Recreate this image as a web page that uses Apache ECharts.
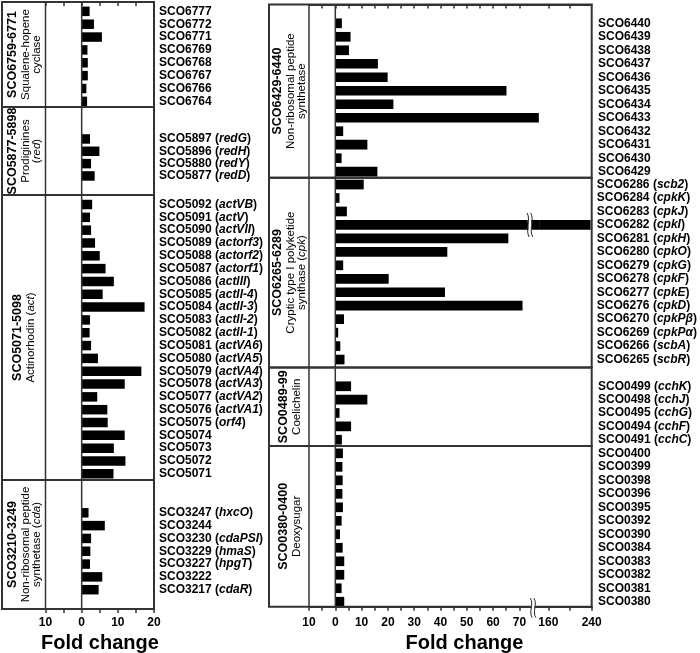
<!DOCTYPE html>
<html><head><meta charset="utf-8">
<script src="https://cdn.jsdelivr.net/npm/echarts@6/dist/echarts.min.js"></script>
<style>html,body{margin:0;padding:0;background:#fff}#c{width:700px;height:653px}</style>
</head><body><div id="c"></div>
<script>
// ---------------- DATA ----------------
const squaleneGenes = ['SCO6777','SCO6772','SCO6771','SCO6769','SCO6768','SCO6767','SCO6766','SCO6764'];
const squaleneFold  = [2.2, 3.4, 5.6, 1.6, 1.7, 1.7, 1.3, 1.5];

const redGenes = ['SCO5897 (redG)','SCO5896 (redH)','SCO5880 (redY)','SCO5877 (redD)'];
const redFold  = [2.3, 4.9, 2.6, 3.6];

const actGenes = ['SCO5092 (actVB)','SCO5091 (actV)','SCO5090 (actVII)','SCO5089 (actorf3)','SCO5088 (actorf2)',
  'SCO5087 (actorf1)','SCO5086 (actIII)','SCO5085 (actII-4)','SCO5084 (actII-3)','SCO5083 (actII-2)','SCO5082 (actII-1)',
  'SCO5081 (actVA6)','SCO5080 (actVA5)','SCO5079 (actVA4)','SCO5078 (actVA3)','SCO5077 (actVA2)','SCO5076 (actVA1)',
  'SCO5075 (orf4)','SCO5074','SCO5073','SCO5072','SCO5071'];
const actFold  = [2.9, 2.3, 2.6, 3.7, 5.0, 6.6, 8.9, 5.8, 17.4, 2.3, 2.2, 2.6, 4.5, 16.5, 11.9, 4.3, 7.1, 7.2, 11.9, 8.9, 12.1, 8.8];

const cdaGenes = ['SCO3247 (hxcO)','SCO3244','SCO3230 (cdaPSI)','SCO3229 (hmaS)','SCO3227 (hpgT)','SCO3222','SCO3217 (cdaR)'];
const cdaFold  = [1.9, 6.4, 2.6, 2.4, 2.3, 5.7, 4.7];

const nrpsGenes = ['SCO6440','SCO6439','SCO6438','SCO6437','SCO6436','SCO6435','SCO6434','SCO6433','SCO6432','SCO6431','SCO6430','SCO6429'];
const nrpsFold  = [2.5, 5.8, 5.2, 16.2, 19.9, 65.1, 22.1, 77.4, 3.0, 12.2, 2.4, 16.0];

const cpkGenes = ['SCO6286 (scb2)','SCO6284 (cpkK)','SCO6283 (cpkJ)','SCO6282 (cpkI)','SCO6281 (cpkH)','SCO6280 (cpkO)',
  'SCO6279 (cpkG)','SCO6278 (cpkF)','SCO6277 (cpkE)','SCO6276 (cpkD)','SCO6270 (cpkPβ)','SCO6269 (cpkPα)','SCO6266 (scbA)','SCO6265 (scbR)'];
const cpkFold  = [10.8, 1.6, 4.4, 240, 65.8, 42.6, 3.0, 20.3, 41.7, 71.2, 3.3, 1.1, 1.9, 3.5];

const cchGenes = ['SCO0499 (cchK)','SCO0498 (cchJ)','SCO0495 (cchG)','SCO0494 (cchF)','SCO0491 (cchC)'];
const cchFold  = [6.0, 12.2, 1.6, 6.0, 2.5];

const deoxyGenes = ['SCO0400','SCO0399','SCO0398','SCO0396','SCO0395','SCO0392','SCO0390','SCO0384','SCO0383','SCO0382','SCO0381','SCO0380'];
const deoxyFold  = [2.9, 2.7, 2.8, 2.7, 2.9, 2.4, 1.8, 2.8, 3.4, 3.4, 2.4, 3.4];

const leftTickLabels  = [-10, 0, 10, 20];
const rightLowLabels  = [-10, 0, 10, 20, 30, 40, 50, 60, 70];
const rightHighLabels = [160, 240];
const rightHighTicks  = [160, 200, 240];

const leftTitles = [
  ['{t|SCO6759-6771}', '{r|Squalene-hopene}', '{r|cyclase}'],
  ['{t|SCO5877-5898}', '{r|Prodiginines}', '{r|(}{ri|red}{r|)}'],
  ['{t|SCO5071-5098}', '{r|Actinorhodin (}{ri|act}{r|)}'],
  ['{t|SCO3210-3249}', '{r|Non-ribosomal peptide}', '{r|synthetase (}{ri|cda}{r|)}']
];
const rightTitles = [
  ['{t|SCO6429-6440}', '{r|Non-ribosomal peptide}', '{r|synthetase}'],
  ['{t|SCO6265-6289}', '{r|Cryptic type I polyketide}', '{r|synthase (}{ri|cpk}{r|)}'],
  ['{t|SCO0489-99}', '{r|Coelichelin}'],
  ['{t|SCO0380-0400}', '{r|Deoxysugar}']
];

// ---------------- LAYOUT ----------------
const FONT = '"Liberation Sans", Arial, Helvetica, sans-serif';
const LINE = '#333';
const LP = {outer: 2, plot: 45.5, right: 154};
const RP = {outer: 269, plot: 309, brk: 539.1, right: 591.7};
const LIN_MAX = 77.5, UP_MIN = 143, UP_MAX = 240, BREAK_AT = 75.2, BAR_BREAK_AT = 74;
const leftLayout = [
  {top: 4.9,   h: 102.9, boxTop: 2,   boxBot: 107},
  {top: 132.8, h: 49.3,  boxTop: 107, boxBot: 195},
  {top: 198.1, h: 282.1, boxTop: 195, boxBot: 480},
  {top: 506.4, h: 89.7,  boxTop: 480, boxBot: 609}
];
const rightLayout = [
  {top: 16.55, h: 161.9, boxTop: 4.5,   boxBot: 177.7},
  {top: 177.8, h: 188.5, boxTop: 177.7, boxBot: 367.5},
  {top: 379.6, h: 66.8,  boxTop: 367.5, boxBot: 446},
  {top: 446.6, h: 161.9, boxTop: 446,   boxBot: 606.7}
];

const leftSets  = [[squaleneGenes, squaleneFold], [redGenes, redFold], [actGenes, actFold], [cdaGenes, cdaFold]];
const rightSets = [[nrpsGenes, nrpsFold], [cpkGenes, cpkFold], [cchGenes, cchFold], [deoxyGenes, deoxyFold]];

const labelRich = {
  b: {fontFamily: FONT, fontWeight: 'bold', fontSize: 12, color: '#000'},
  i: {fontFamily: FONT, fontWeight: 'bold', fontStyle: 'italic', fontSize: 12, color: '#000'}
};
function geneLabel(v) {
  const m = /^(\S+) \((.+)\)$/.exec(v);
  if (!m) return '{b|' + v + '}';
  return '{b|' + m[1] + ' (}{i|' + m[2] + '}{b|)}';
}
function range(a, b, s) { const r = []; for (let v = a; v <= b + 1e-9; v += s) r.push(v); return r; }

const grid = [], xAxis = [], yAxis = [], series = [];
const tickStyle = {color: LINE, width: 1.5};
const axisLineStyle = {show: true, lineStyle: {color: LINE, width: 2}};
const tickLabel = {fontFamily: FONT, fontWeight: 'bold', fontSize: 12, color: '#000'};

const leftX = [], rightLowX = [], rightHighX = [], rightLowY = [];

leftSets.forEach(([genes, fold], i) => {
  const lay = leftLayout[i];
  const isTop = i === 0, isBot = i === leftSets.length - 1;
  grid.push({left: LP.plot, width: LP.right - LP.plot, top: lay.top, height: lay.h});
  const gi = grid.length - 1;
  xAxis.push({
    gridIndex: gi, type: 'value', min: -10, max: 20, interval: 5,
    show: isTop || isBot, position: isTop ? 'top' : 'bottom',
    offset: isTop ? lay.top - lay.boxTop : lay.boxBot - (lay.top + lay.h),
    axisLine: axisLineStyle, splitLine: {show: false},
    axisTick: {show: true, inside: isTop, length: 4, lineStyle: tickStyle},
    axisLabel: Object.assign({show: isBot, customValues: leftTickLabels, margin: 8,
      formatter: v => String(Math.abs(v))}, tickLabel)
  });
  leftX.push(xAxis.length - 1);
  yAxis.push({
    gridIndex: gi, type: 'category', data: genes, inverse: true, position: 'right',
    axisLine: {show: false}, axisTick: {show: false}, splitLine: {show: false},
    axisLabel: {interval: 0, margin: 5, formatter: geneLabel, rich: labelRich}
  });
  series.push({type: 'bar', xAxisIndex: xAxis.length - 1, yAxisIndex: yAxis.length - 1,
    data: fold, barWidth: 9.5, itemStyle: {color: '#000'}, clip: true, silent: true});
});

rightSets.forEach(([genes, fold], i) => {
  const lay = rightLayout[i];
  const isTop = i === 0, isBot = i === rightSets.length - 1;
  const offset = isTop ? lay.top - lay.boxTop : lay.boxBot - (lay.top + lay.h);
  grid.push({left: RP.plot, width: RP.brk - RP.plot, top: lay.top, height: lay.h});
  const g1 = grid.length - 1;
  grid.push({left: RP.brk, width: RP.right - RP.brk, top: lay.top, height: lay.h});
  const g2 = grid.length - 1;
  xAxis.push({
    gridIndex: g1, type: 'value', min: -10, max: LIN_MAX,
    show: isTop || isBot, position: isTop ? 'top' : 'bottom', offset,
    axisLine: axisLineStyle, splitLine: {show: false},
    axisTick: {show: true, inside: isTop, length: 4, lineStyle: tickStyle,
      customValues: isTop ? range(-5, 70, 5) : range(-10, 70, 5)},
    axisLabel: Object.assign({show: isBot, customValues: rightLowLabels, margin: 10.3,
      formatter: v => String(Math.abs(v))}, tickLabel)
  });
  rightLowX.push(xAxis.length - 1);
  xAxis.push({
    gridIndex: g2, type: 'value', min: UP_MIN, max: UP_MAX,
    show: isTop || isBot, position: isTop ? 'top' : 'bottom', offset,
    axisLine: axisLineStyle, splitLine: {show: false},
    axisTick: {show: true, inside: isTop, length: 4, lineStyle: tickStyle,
      customValues: isTop ? rightHighTicks.slice(0, 2) : rightHighTicks},
    axisLabel: Object.assign({show: isBot, customValues: rightHighLabels, margin: 10.3}, tickLabel)
  });
  rightHighX.push(xAxis.length - 1);
  yAxis.push({gridIndex: g1, type: 'category', data: genes, inverse: true, show: false});
  rightLowY.push(yAxis.length - 1);
  yAxis.push({
    gridIndex: g2, type: 'category', data: genes, inverse: true, position: 'right',
    axisLine: {show: false}, axisTick: {show: false}, splitLine: {show: false},
    axisLabel: {interval: 0, margin: 6.3, formatter: geneLabel, rich: labelRich}
  });
  series.push({type: 'bar', xAxisIndex: xAxis.length - 2, yAxisIndex: yAxis.length - 2,
    data: fold, barWidth: 9.7, itemStyle: {color: '#000'}, clip: true, silent: true});
  series.push({type: 'bar', xAxisIndex: xAxis.length - 1, yAxisIndex: yAxis.length - 1,
    data: fold.map(v => v > LIN_MAX ? v : '-'), barWidth: 9.7, itemStyle: {color: '#000'}, clip: true, silent: true});
});

const chart = echarts.init(document.getElementById('c'));
chart.setOption({animation: false, grid, xAxis, yAxis, series});

// ---------------- FRAME / DECORATION ----------------
const px = (ai, v) => chart.convertToPixel({xAxisIndex: ai}, v);
const titleRich = {
  t:  {fontFamily: FONT, fontWeight: 'bold', fontSize: 12.5, lineHeight: 15, color: '#000'},
  r:  {fontFamily: FONT, fontSize: 11.5, lineHeight: 11.5, color: '#000'},
  ri: {fontFamily: FONT, fontStyle: 'italic', fontSize: 11.5, lineHeight: 11.5, color: '#000'}
};
const graphic = [];
function panelFrame(layout, outer, right, xNeg, xZero, titles) {
  layout.forEach((lay, i) => {
    graphic.push({type: 'rect', silent: true, z: 50,
      shape: {x: outer, y: lay.boxTop, width: right - outer, height: lay.boxBot - lay.boxTop},
      style: {fill: 'none', stroke: LINE, lineWidth: 2}});
    [xNeg, xZero].forEach(x => graphic.push({type: 'line', silent: true, z: 50,
      shape: {x1: x, y1: lay.boxTop, x2: x, y2: lay.boxBot},
      style: {stroke: LINE, lineWidth: 1.5}}));
    graphic.push({type: 'text', silent: true, z: 60,
      x: (outer + xNeg) / 2, y: (lay.boxTop + lay.boxBot) / 2, rotation: Math.PI / 2,
      style: {text: titles[i].join('\n'), rich: titleRich, align: 'center', verticalAlign: 'middle'}});
  });
}
panelFrame(leftLayout, LP.outer, LP.right, px(leftX[0], -10), px(leftX[0], 0), leftTitles);
panelFrame(rightLayout, RP.outer, RP.right, px(rightLowX[0], -10), px(rightLowX[0], 0), rightTitles);

function breakMark(cx, y1, y2) {
  const gap = 3.6, h = y2 - y1;
  graphic.push({type: 'polygon', silent: true, z: 80,
    shape: {points: [[cx - 1, y1], [cx - 1 + gap, y1], [cx + 1 + gap, y2], [cx + 1, y2]]},
    style: {fill: '#fff'}});
  [0, gap].forEach(d => graphic.push({type: 'bezierCurve', silent: true, z: 81,
    shape: {x1: cx - 1 + d, y1: y1, cpx1: cx + 3 + d, cpy1: y1 + h * 0.3,
            cpx2: cx - 3 + d, cpy2: y1 + h * 0.7, x2: cx + 1 + d, y2: y2},
    style: {stroke: '#222', lineWidth: 1, fill: 'none'}}));
}
const botLay = rightLayout[rightLayout.length - 1];
breakMark(px(rightLowX[rightLowX.length - 1], BREAK_AT) - 1.8, botLay.boxBot - 8.5, botLay.boxBot + 11);
const cpkRowY = chart.convertToPixel({yAxisIndex: rightLowY[1]}, cpkGenes[3]);
breakMark(px(rightLowX[1], BAR_BREAK_AT) - 1.8, cpkRowY - 12, cpkRowY + 12);

graphic.push({type: 'text', silent: true, x: 100, y: 643,
  style: {text: 'Fold change', fontFamily: FONT, fontWeight: 'bold', fontSize: 20, fill: '#000', align: 'center', verticalAlign: 'middle'}});
graphic.push({type: 'text', silent: true, x: 464.5, y: 643,
  style: {text: 'Fold change', fontFamily: FONT, fontWeight: 'bold', fontSize: 20, fill: '#000', align: 'center', verticalAlign: 'middle'}});

chart.setOption({graphic});
</script>
</body></html>
